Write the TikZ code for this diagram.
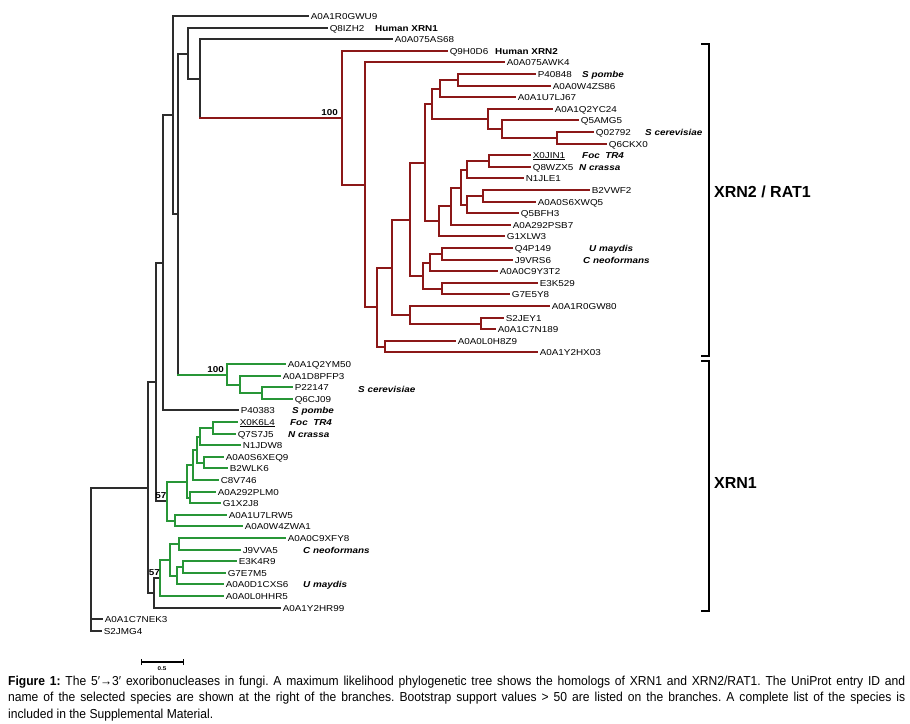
\documentclass[tikz,border=0pt]{standalone}
\usepackage{fontspec}
\setmainfont{Liberation Sans}
\newfontfamily\labf[FakeStretch=1.15]{Liberation Sans}
\newfontfamily\capf[FakeStretch=0.93]{Liberation Sans}
\definecolor{xred}{RGB}{140,24,24}
\definecolor{xgreen}{RGB}{40,150,55}
\definecolor{xblack}{RGB}{45,45,45}
\newcommand\thickul[1]{\setbox0\hbox{#1}\rlap{\rule[-2.3pt]{\wd0}{1.1pt}}\box0}
\tikzset{
 br/.style={line width=1.4pt, draw=xblack, line cap=rect},
 rd/.style={line width=2pt, draw=xred, line cap=rect},
 gn/.style={line width=2pt, draw=xgreen, line cap=rect},
 leaf/.style={anchor=west, inner xsep=2.6pt, inner ysep=0pt, text height=6.2pt, text depth=0pt, font=\labf\fontsize{8.6}{10}\selectfont},
 sp/.style={anchor=west, inner sep=0pt, text height=6.2pt, text depth=0pt, font=\labf\fontsize{8.6}{10}\selectfont\bfseries\itshape},
 hum/.style={anchor=west, inner sep=0pt, text height=6.2pt, text depth=0pt, font=\labf\fontsize{8.6}{10}\selectfont\bfseries},
 boot/.style={anchor=south east, inner sep=0pt, text height=6.2pt, text depth=0pt, font=\labf\fontsize{8.6}{10}\selectfont\bfseries},
 clade/.style={anchor=west, inner sep=0pt, font=\fontsize{16}{18}\selectfont\bfseries},
 brk/.style={line width=2.4pt, draw=black},
 capline/.style={anchor=base west, inner sep=0pt, font=\capf\fontsize{13}{15}\selectfont\frenchspacing}
}
\begin{document}
\begin{tikzpicture}[x=1pt,y=-1pt]
\fill[white] (0,0) rectangle (910,723);
\useasboundingbox (0,0) rectangle (910,723);

% leaves
\node[leaf] (l1) at (308,16) {A0A1R0GWU9};
\node[leaf] (l2) at (327,28) {Q8IZH2};
\node[leaf] (l3) at (392,39) {A0A075AS68};
\node[leaf] (l4) at (447,51) {Q9H0D6};
\node[leaf] (l5) at (504,62) {A0A075AWK4};
\node[leaf] (l6) at (535,74) {P40848};
\node[leaf] (l7) at (550,86) {A0A0W4ZS86};
\node[leaf] (l8) at (515,97) {A0A1U7LJ67};
\node[leaf] (l9) at (552,109) {A0A1Q2YC24};
\node[leaf] (l10) at (578,120) {Q5AMG5};
\node[leaf] (l11) at (593,132) {Q02792};
\node[leaf] (l12) at (606,144) {Q6CKX0};
\node[leaf] (l13) at (530,155) {\thickul{X0JIN1}};
\node[leaf] (l14) at (530,167) {Q8WZX5};
\node[leaf] (l15) at (523,178) {N1JLE1};
\node[leaf] (l16) at (589,190) {B2VWF2};
\node[leaf] (l17) at (535,202) {A0A0S6XWQ5};
\node[leaf] (l18) at (518,213) {Q5BFH3};
\node[leaf] (l19) at (510,225) {A0A292PSB7};
\node[leaf] (l20) at (504,236) {G1XLW3};
\node[leaf] (l21) at (512,248) {Q4P149};
\node[leaf] (l22) at (512,260) {J9VRS6};
\node[leaf] (l23) at (497,271) {A0A0C9Y3T2};
\node[leaf] (l24) at (537,283) {E3K529};
\node[leaf] (l25) at (509,294) {G7E5Y8};
\node[leaf] (l26) at (549,306) {A0A1R0GW80};
\node[leaf] (l27) at (503,318) {S2JEY1};
\node[leaf] (l28) at (495,329) {A0A1C7N189};
\node[leaf] (l29) at (455,341) {A0A0L0H8Z9};
\node[leaf] (l30) at (537,352) {A0A1Y2HX03};
\node[leaf] (l31) at (285,364) {A0A1Q2YM50};
\node[leaf] (l32) at (280,376) {A0A1D8PFP3};
\node[leaf] (l33) at (292,387) {P22147};
\node[leaf] (l34) at (292,399) {Q6CJ09};
\node[leaf] (l35) at (238,410) {P40383};
\node[leaf] (l36) at (237,422) {\thickul{X0K6L4}};
\node[leaf] (l37) at (235,434) {Q7S7J5};
\node[leaf] (l38) at (240,445) {N1JDW8};
\node[leaf] (l39) at (223,457) {A0A0S6XEQ9};
\node[leaf] (l40) at (227,468) {B2WLK6};
\node[leaf] (l41) at (218,480) {C8V746};
\node[leaf] (l42) at (215,492) {A0A292PLM0};
\node[leaf] (l43) at (220,503) {G1X2J8};
\node[leaf] (l44) at (226,515) {A0A1U7LRW5};
\node[leaf] (l45) at (242,526) {A0A0W4ZWA1};
\node[leaf] (l46) at (285,538) {A0A0C9XFY8};
\node[leaf] (l47) at (240,550) {J9VVA5};
\node[leaf] (l48) at (236,561) {E3K4R9};
\node[leaf] (l49) at (225,573) {G7E7M5};
\node[leaf] (l50) at (223,584) {A0A0D1CXS6};
\node[leaf] (l51) at (223,596) {A0A0L0HHR5};
\node[leaf] (l52) at (280,608) {A0A1Y2HR99};
\node[leaf] (l53) at (102,619) {A0A1C7NEK3};
\node[leaf] (l54) at (101,631) {S2JMG4};

% species labels
\node[hum] (h1) at (375,28) {Human XRN1};
\node[hum] (h2) at (495,51) {Human XRN2};
\node[sp] (s1) at (582,74) {S pombe};
\node[sp] (s2) at (645,132) {S cerevisiae};
\node[sp] (s3) at (582,155) {Foc\ \ TR4};
\node[sp] (s4) at (579,167) {N crassa};
\node[sp] (s5) at (589,248) {U maydis};
\node[sp] (s6) at (583,260) {C neoformans};
\node[sp] (s7) at (358,389) {S cerevisiae};
\node[sp] (s8) at (292,410) {S pombe};
\node[sp] (s9) at (290,422) {Foc\ \ TR4};
\node[sp] (s10) at (288,434) {N crassa};
\node[sp] (s11) at (303,550) {C neoformans};
\node[sp] (s12) at (303,584) {U maydis};

% internal nodes
\coordinate (n91) at (91,560);
\coordinate (n148) at (148,488);
\coordinate (n156) at (156,382);
\coordinate (n154) at (154,593);
\coordinate (n163) at (163,263);
\coordinate (n167) at (167,501);
\coordinate (n173) at (173,115);
\coordinate (n178) at (178,214);
\coordinate (n188) at (188,54);
\coordinate (n200) at (200,79);
\coordinate (n342) at (342,118);
\coordinate (n365) at (365,185);
\coordinate (n377) at (377,307);
\coordinate (n385) at (385,347);
\coordinate (n392) at (392,268);
\coordinate (n410b) at (410,315);
\coordinate (n482) at (481,324);
\coordinate (n410a) at (410,220);
\coordinate (n423) at (423,276);
\coordinate (n430) at (430,263);
\coordinate (n442a) at (442,254);
\coordinate (n442b) at (442,289);
\coordinate (n425) at (425,163);
\coordinate (n432) at (432,104);
\coordinate (n440) at (440,89);
\coordinate (n458) at (458,80);
\coordinate (n488) at (488,119);
\coordinate (n502) at (502,129);
\coordinate (n557) at (557,138);
\coordinate (n439) at (439,221);
\coordinate (n451) at (451,206);
\coordinate (n461) at (461,188);
\coordinate (n467a) at (467,170);
\coordinate (n490) at (489,161);
\coordinate (n467b) at (467,205);
\coordinate (n483) at (483,196);
\coordinate (n227) at (227,375);
\coordinate (n240) at (240,385);
\coordinate (n262) at (262,393);
\coordinate (n187) at (187,482);
\coordinate (n193) at (193,465);
\coordinate (n197) at (197,450);
\coordinate (n200g) at (200,437);
\coordinate (n213) at (213,428);
\coordinate (n204) at (204,463);
\coordinate (n190) at (190,498);
\coordinate (n175) at (175,521);
\coordinate (n160) at (160,578);
\coordinate (n170) at (170,560);
\coordinate (n180) at (179,544);
\coordinate (n177) at (177,576);
\coordinate (n183) at (183,567);

% black branches
\foreach \a/\b in {n91/n148, n91/l53.west, n91/l54.west, n148/n156, n148/n154,
  n156/n163, n156/n167, n163/n173, n163/l35.west, n173/l1.west, n173/n178,
  n178/n188, n188/l2.west, n188/n200, n200/l3.west, n154/n160, n154/l52.west}
  \draw[br] (\a) |- (\b);
\draw[br] (n200) -- (n200 |- n342);
\draw[br] (n178) -- (n178 |- n227);

% red branches
\draw[rd] (n200 |- n342) -- (n342);
\foreach \a/\b in {n342/l4.west, n342/n365, n365/l5.west, n365/n377,
  n377/n392, n377/n385, n385/l29.west, n385/l30.west,
  n392/n410a, n392/n410b, n410b/l26.west, n410b/n482, n482/l27.west, n482/l28.west,
  n410a/n425, n410a/n423, n423/n430, n423/n442b, n430/n442a, n430/l23.west,
  n442a/l21.west, n442a/l22.west, n442b/l24.west, n442b/l25.west,
  n425/n432, n425/n439, n432/n440, n432/n488, n440/n458, n440/l8.west,
  n458/l6.west, n458/l7.west, n488/l9.west, n488/n502, n502/l10.west, n502/n557,
  n557/l11.west, n557/l12.west, n439/n451, n439/l20.west, n451/n461, n451/l19.west,
  n461/n467a, n461/n467b, n467a/n490, n467a/l15.west, n490/l13.west, n490/l14.west,
  n467b/n483, n467b/l18.west, n483/l16.west, n483/l17.west}
  \draw[rd] (\a) |- (\b);

% green branches
\draw[gn] (n178 |- n227) -- (n227);
\foreach \a/\b in {n227/l31.west, n227/n240, n240/l32.west, n240/n262,
  n262/l33.west, n262/l34.west,
  n167/n187, n167/n175, n187/n193, n187/n190, n193/n197, n193/l41.west,
  n197/n200g, n197/n204, n200g/n213, n200g/l38.west, n213/l36.west, n213/l37.west,
  n204/l39.west, n204/l40.west, n190/l42.west, n190/l43.west,
  n175/l44.west, n175/l45.west,
  n160/n170, n160/l51.west, n170/n180, n170/n177, n180/l46.west, n180/l47.west,
  n177/n183, n177/l50.west, n183/l48.west, n183/l49.west}
  \draw[gn] (\a) |- (\b);

% bootstrap values
\node[boot] (b1) at (338,116) {100};
\node[boot] (b2) at (224,373) {100};
\node[boot] (b3) at (166.5,499) {57};
\node[boot] (b4) at (160,576) {57};

% clade brackets
\draw[brk] (701,44) -- (709,44) -- (709,356) -- (701,356);
\draw[brk] (701,361) -- (709,361) -- (709,611) -- (701,611);
\node[clade] (c2) at (714,192) {XRN2 / RAT1};
\node[clade] (c1) at (714,483) {XRN1};

% scale bar
\coordinate (sb1) at (141,662);
\coordinate (sb2) at (183,662);
\draw[line width=1.2pt] (sb1) -- (sb2);
\draw[line width=1pt] ([yshift=-3pt]sb1) -- ([yshift=3pt]sb1);
\draw[line width=1pt] ([yshift=-3pt]sb2) -- ([yshift=3pt]sb2);
\node[inner sep=0pt, font=\labf\fontsize{5.5}{6}\selectfont\bfseries] (sbl) at (162,668.5) {0.5};

% caption
\node[capline] (cap1) at (8,685) {\makebox[897pt][s]{\textbf{Figure 1:} The 5′→3′ exoribonucleases in fungi. A maximum likelihood phylogenetic tree shows the homologs of XRN1 and XRN2/RAT1. The UniProt entry ID and}};
\node[capline] (cap2) at (8,701.5) {\makebox[897pt][s]{name of the selected species are shown at the right of the branches. Bootstrap support values > 50 are listed on the branches. A complete list of the species is}};
\node[capline] (cap3) at (8,718) {included in the Supplemental Material.};
\end{tikzpicture}
\end{document}
